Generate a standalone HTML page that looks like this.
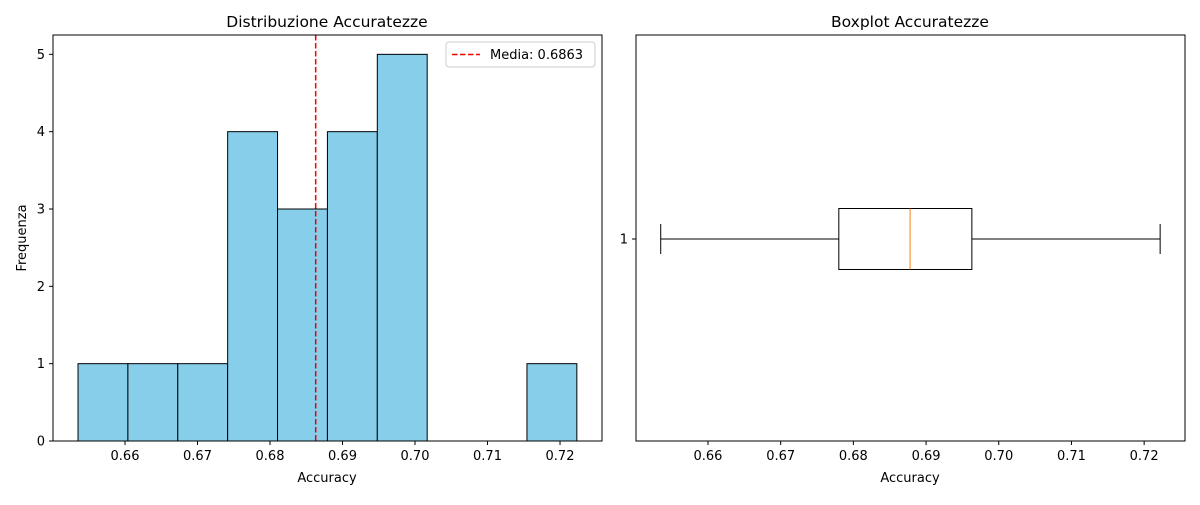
<!DOCTYPE html>
<html><head><meta charset="utf-8"><style>
body{margin:0;background:#fff;font-family:"Liberation Sans","DejaVu Sans",sans-serif}
svg text{font-family:"DejaVu Sans","Liberation Sans",sans-serif}
</style></head><body>
<svg id="c" width="1200" height="500" xmlns="http://www.w3.org/2000/svg"></svg>
<script>
const binEdges=[0.65352,0.66040,0.66728,0.67416,0.68104,0.68792,0.69480,0.70168,0.70856,0.71544,0.72232];
const counts=[1,1,1,4,3,4,5,0,0,1];
const meanVal=0.6863;
const xTicks=[0.66,0.67,0.68,0.69,0.70,0.71,0.72];
const yTicks=[0,1,2,3,4,5];
const boxStats=[0.6535,0.6780,0.6878,0.6963,0.7222]; // min,q1,med,q3,max

const S=document.getElementById('c');const NS='http://www.w3.org/2000/svg';
function el(t,a,txt){const e=document.createElementNS(NS,t);for(const k in a)e.setAttribute(k,a[k]);if(txt!==undefined)e.textContent=txt;S.appendChild(e);return e;}
// left axes
const L={x0:53,x1:602,y0:35,y1:441,xmin:0.65007,xmax:0.72579,ymax:5.25};
const lx=v=>L.x0+(v-L.xmin)/(L.xmax-L.xmin)*(L.x1-L.x0);
const ly=v=>L.y1-v/L.ymax*(L.y1-L.y0);
for(let i=0;i<counts.length;i++){
 const r=el('rect',{x:lx(binEdges[i]),y:ly(counts[i]),width:lx(binEdges[i+1])-lx(binEdges[i]),height:L.y1-ly(counts[i]),fill:'#87ceeb',stroke:'#000','stroke-width':1});
 
 
}
const ml=el('line',{x1:lx(meanVal),x2:lx(meanVal),y1:L.y0,y2:L.y1,stroke:'#e00','stroke-width':1.5,'stroke-dasharray':'5.5,2.5'});

el('rect',{x:L.x0,y:L.y0,width:L.x1-L.x0,height:L.y1-L.y0,fill:'none',stroke:'#000','stroke-width':1,});
xTicks.forEach(t=>{const x=lx(t);el('line',{x1:x,x2:x,y1:L.y1,y2:L.y1+4,stroke:'#000'});
 const tx=el('text',{x:x,y:L.y1+19,'font-size':13,'text-anchor':'middle'},t.toFixed(2));});
yTicks.forEach(t=>{const y=ly(t);el('line',{x1:L.x0-4,x2:L.x0,y1:y,y2:y,stroke:'#000'});
 const tx=el('text',{x:L.x0-8,y:y+4.5,'font-size':13,'text-anchor':'end'},t);});
el('text',{x:327,y:27,'font-size':15.5,'text-anchor':'middle',},'Distribuzione Accuratezze');
el('text',{x:327,y:482,'font-size':13,'text-anchor':'middle',},'Accuracy');
el('text',{x:26,y:238,'font-size':13,'text-anchor':'middle',transform:'rotate(-90 26 238)',},'Frequenza');
// legend
el('rect',{x:446,y:42,width:149,height:25,rx:3,fill:'#fff',stroke:'#ccc',});
el('line',{x1:452,x2:480,y1:54.5,y2:54.5,stroke:'#e00','stroke-width':1.5,'stroke-dasharray':'5.5,2.5'});
el('text',{x:490,y:59,'font-size':13,},'Media: '+meanVal.toFixed(4));
// right axes
const R={x0:636,x1:1185,y0:35,y1:441,xmin:0.65010,xmax:0.72562};
const rx=v=>R.x0+(v-R.xmin)/(R.xmax-R.xmin)*(R.x1-R.x0);
const cy=239,bh=30.5,cap=15;
el('line',{x1:rx(boxStats[0]),x2:rx(boxStats[1]),y1:cy,y2:cy,stroke:'#000',});
el('line',{x1:rx(boxStats[3]),x2:rx(boxStats[4]),y1:cy,y2:cy,stroke:'#000',});
el('line',{x1:rx(boxStats[0]),x2:rx(boxStats[0]),y1:cy-cap,y2:cy+cap,stroke:'#000'});
el('line',{x1:rx(boxStats[4]),x2:rx(boxStats[4]),y1:cy-cap,y2:cy+cap,stroke:'#000'});
el('rect',{x:rx(boxStats[1]),y:cy-bh,width:rx(boxStats[3])-rx(boxStats[1]),height:2*bh,fill:'none',stroke:'#000',});
el('line',{x1:rx(boxStats[2]),x2:rx(boxStats[2]),y1:cy-bh,y2:cy+bh,stroke:'#ff7f0e',});
el('rect',{x:R.x0,y:R.y0,width:R.x1-R.x0,height:R.y1-R.y0,fill:'none',stroke:'#000',});
xTicks.forEach(t=>{const x=rx(t);el('line',{x1:x,x2:x,y1:R.y1,y2:R.y1+4,stroke:'#000'});
 const tx=el('text',{x:x,y:R.y1+19,'font-size':13,'text-anchor':'middle'},t.toFixed(2));});
el('line',{x1:R.x0-4,x2:R.x0,y1:cy,y2:cy,stroke:'#000'});
el('text',{x:R.x0-8,y:cy+4.5,'font-size':13,'text-anchor':'end',},'1');
el('text',{x:910,y:27,'font-size':15.5,'text-anchor':'middle',},'Boxplot Accuratezze');
el('text',{x:910,y:482,'font-size':13,'text-anchor':'middle',},'Accuracy');
</script>
</body></html>
